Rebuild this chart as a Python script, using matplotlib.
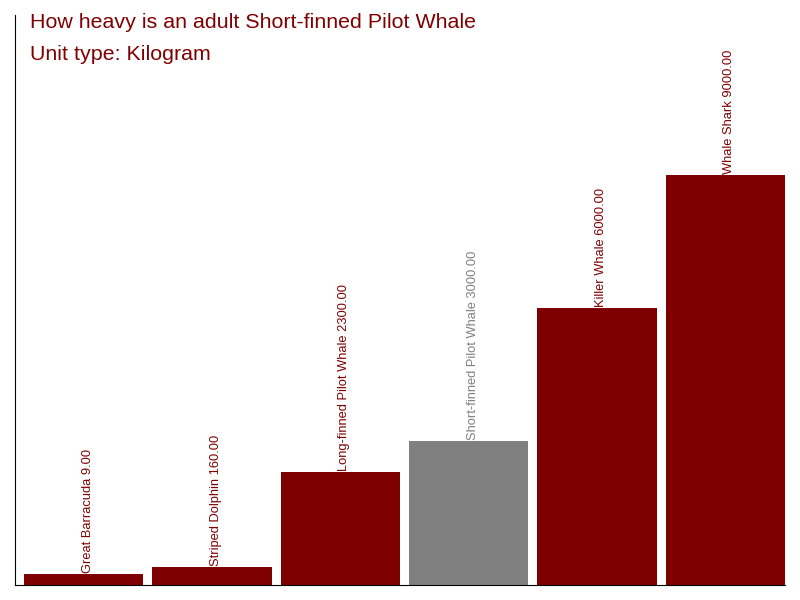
import matplotlib
matplotlib.use('Agg')
import matplotlib.pyplot as plt

# donnees
animals = ["Great Barracuda", "Striped Dolphin", "Long-finned Pilot Whale",
           "Short-finned Pilot Whale", "Killer Whale", "Whale Shark"]
weights = [9, 160, 2300, 3000, 6000, 9000]
highlight = "Short-finned Pilot Whale"

red = "#7f0000"
grey = "#808080"

plt.rcParams['font.family'] = ['Liberation Sans', 'DejaVu Sans']

fig = plt.figure(figsize=(8, 6), dpi=100)
ax = fig.add_axes([15 / 800, 15 / 600, 770 / 800, 570 / 600])

y0 = -250
colors = [grey if a == highlight else red for a in animals]
xs = [i + 0.07 for i in range(len(animals))]
ax.bar(xs, [w - y0 for w in weights], width=0.93, align='edge', bottom=y0,
       color=colors)

for x, a, w, c in zip(xs, animals, weights, colors):
    ax.text(x + 0.495, w + 20, f"{a} {w:.2f}", rotation=90, ha='center',
            va='bottom', fontsize=9.3, color=c)

ax.set_xlim(0, 6)
ax.set_ylim(y0, 12600)
ax.set_xticks([])
ax.set_yticks([])
for s in ['top', 'right']:
    ax.spines[s].set_visible(False)

fig.text(30 / 800, 1 - 23 / 600, "How heavy is an adult Short-finned Pilot Whale",
         fontsize=15.4, color=red, va='center', ha='left')
fig.text(30 / 800, 1 - 54 / 600, "Unit type: Kilogram",
         fontsize=15.4, color=red, va='center', ha='left')

fig.savefig("out.png", dpi=100)
